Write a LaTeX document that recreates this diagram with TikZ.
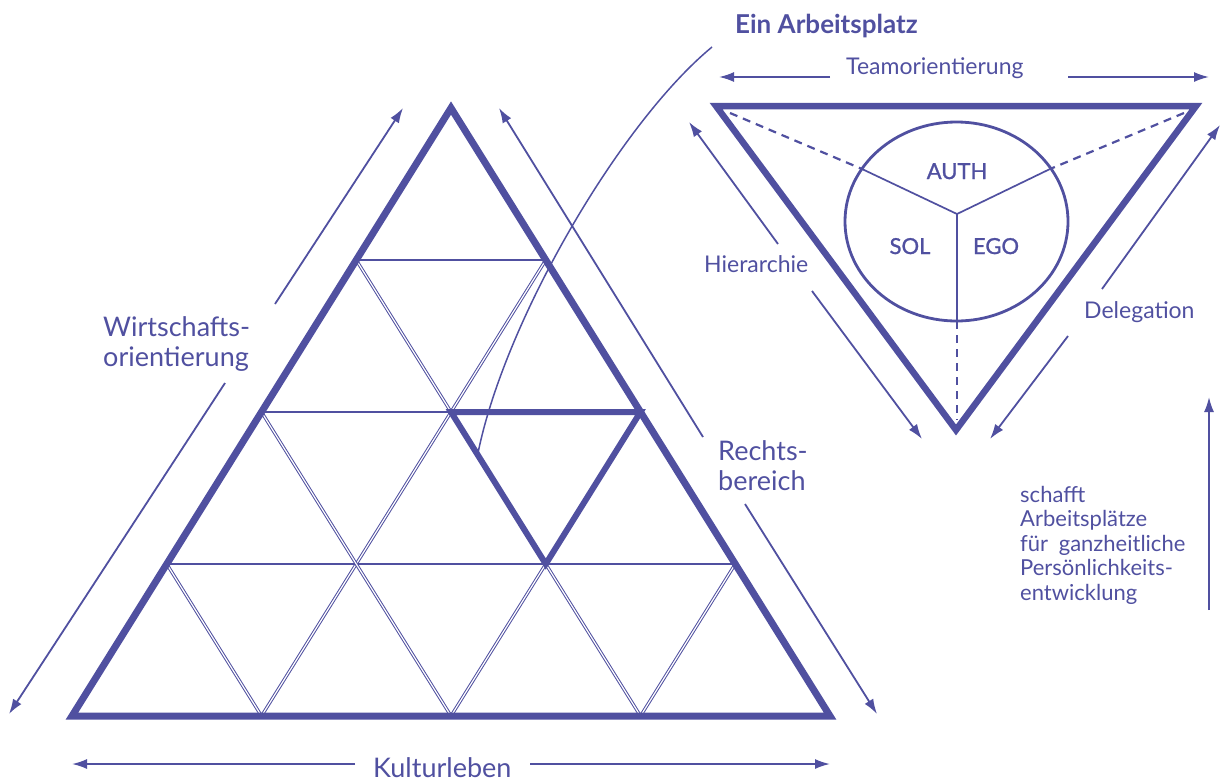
\documentclass[tikz,border=0pt]{standalone}
\usepackage{fontspec}
\setmainfont{Lato}
\newfontfamily\midfont[FakeBold=1.2]{Lato}
\usetikzlibrary{arrows.meta}
\definecolor{ink}{RGB}{80,80,160}

\begin{document}
\begin{tikzpicture}[x=1pt,y=-1pt,
  edge/.style={ink,line width=7pt},
  gridline/.style={ink,line width=1pt,double=white,double distance=1.2pt},
  rowline/.style={ink,line width=1.8pt},
  arr/.style={ink,line width=1.8pt,-{Latex[length=15pt,width=10pt]}},
  lbl/.style={ink,inner sep=0pt},
  biglbl/.style={lbl,font=\fontsize{27}{30}\selectfont},
  midlbl/.style={lbl,font=\fontsize{23}{26}\selectfont},
  seglbl/.style={lbl,font=\midfont\fontsize{22}{25}\selectfont}]

\useasboundingbox (0,0) rectangle (1222,782);

% Corners of the big triangle
\coordinate (apex) at (451,108);
\coordinate (bl) at (72,716);
\coordinate (br) at (830,716);

% Inner grid, rows
\foreach \k in {1,2,3}
  \draw[rowline] ({451-94.75*\k},{108+152*\k}) -- ({451+94.75*\k},{108+152*\k});

% Inner grid, slanted lines
\foreach \j in {1,2,3} {
  \draw[gridline] ({72+189.5*\j},716) -- ({72+189.5*\j+94.75*(4-\j)},{716-152*(4-\j)});
  \draw[gridline] ({72+189.5*\j},716) -- ({72+189.5*\j-94.75*\j},{716-152*\j});
}

% Outline
\draw[edge] (apex) -- (bl) -- (br) -- cycle;

% One workplace
\coordinate (w1) at (451,412);
\coordinate (w2) at (640.5,412);
\coordinate (w3) at (545.75,564);
\draw[ink,line width=6pt] (w1) -- (w2) -- (w3) -- cycle;

% Arrows round the big triangle
\draw[arr] (275,304) -- (403,108);
\draw[arr] (225,383) -- (9,714);
\draw[arr] (703,437) -- (499,108);
\draw[arr] (745,504) -- (877,714);
\draw[arr] (355,764) -- (72,764);
\draw[arr] (530,764) -- (830,764);

\node[biglbl,anchor=north west,align=left] (wirt) at (103,316) {Wirtschafts-\\orientierung};
\node[biglbl,anchor=north west,align=left] (recht) at (718,440) {Rechts-\\bereich};
\node[biglbl,anchor=base west] (kult) at (373,777) {Kulturleben};

% Small triangle
\coordinate (ta) at (716,106);
\coordinate (tb) at (1196,106);
\coordinate (tc) at (956,430);
\draw[edge,line width=6.5pt] (ta) -- (tb) -- (tc) -- cycle;

% Circle and its three parts
\coordinate (mid) at (957,214);
\coordinate (pl) at (862,169);
\coordinate (pr) at (1050,169);
\coordinate (pb) at (957,321);
\draw[ink,line width=2.8pt] (956.5,221.5) ellipse [x radius=111.5, y radius=99.5];
\draw[ink,line width=1.7pt] (pl) -- (mid) -- (pr) (mid) -- (pb);
\draw[ink,line width=2.2pt,dash pattern=on 8pt off 6pt] (730,113) -- (pl);
\draw[ink,line width=2.2pt,dash pattern=on 8pt off 6pt] (1184,113) -- (pr);
\draw[ink,line width=2.2pt,dash pattern=on 8pt off 6pt] (pb) -- (957,420);

\node[seglbl,anchor=base] (auth) at (957,179) {AUTH};
\node[seglbl,anchor=base] (sol) at (910,254) {SOL};
\node[seglbl,anchor=base] (ego) at (996,254) {EGO};

% Arrows round the small triangle
\draw[arr] (830,77) -- (719,77);
\draw[arr] (1068,77) -- (1209,77);
\draw[arr] (778,244) -- (689,122);
\draw[arr] (812,291) -- (922,439);
\draw[arr] (1102,289) -- (1220,125);
\draw[arr] (1068,336) -- (990,439);
\draw[arr] (1209,610) -- (1209,397);

\node[midlbl,anchor=base west] (team) at (846,74) {Teamorientierung};
\node[midlbl,anchor=base west] (hier) at (704,272) {Hierarchie};
\node[midlbl,anchor=base west] (dele) at (1084,318) {Delegation};

\node[lbl,anchor=north west,align=left,font=\fontsize{22}{24.5}\selectfont] (text) at (1020,486)
  {schafft\\Arbeitspl\"atze\\f\"ur\hspace{5pt} ganzheitliche\\Pers\"onlichkeits-\\entwicklung};

% Pointer to one workplace
\node[lbl,anchor=base west,font=\bfseries\fontsize{26}{30}\selectfont] (ein) at (735,33) {Ein Arbeitsplatz};
\draw[ink,line width=1.5pt] (712,47) .. controls (620,123) and (505,320) .. (478,453);

\end{tikzpicture}
\end{document}
